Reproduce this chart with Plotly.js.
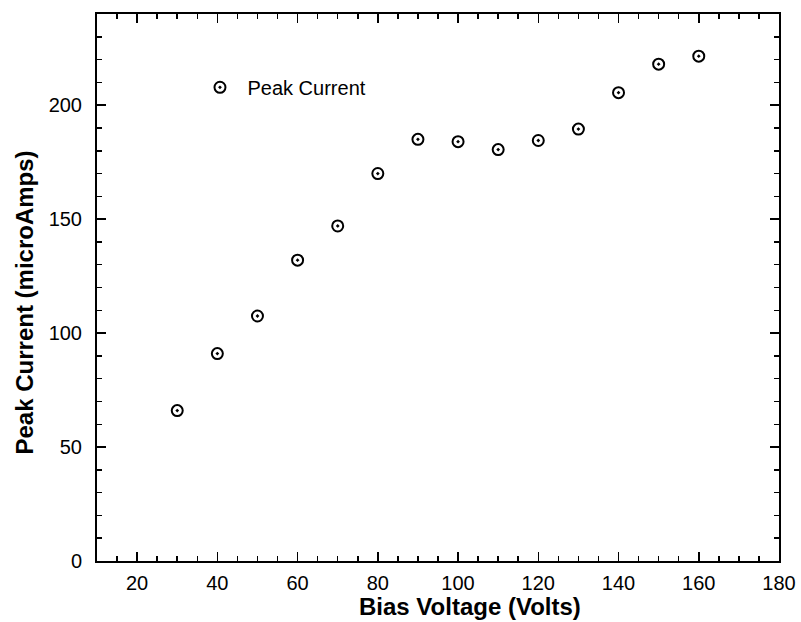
<!DOCTYPE html>
<html>
<head>
<meta charset="utf-8">
<script src="https://cdn.plot.ly/plotly-3.0.1.min.js"></script>
<style>html,body{margin:0;padding:0;background:#fff;}#chart{width:801px;height:622px;}</style>
</head>
<body>
<div id="chart"></div>
<script>
const biasVoltage = [30, 40, 50, 60, 70, 80, 90, 100, 110, 120, 130, 140, 150, 160];
const peakCurrent = [66, 91, 107.5, 132, 147, 170, 185, 184, 180.5, 184.5, 189.5, 205.5, 218, 221.5];
const seriesName = 'Peak Current';
const xTitle = 'Bias Voltage (Volts)';
const yTitle = 'Peak Current (microAmps)';

const fontFam = 'Arial, "Liberation Sans", sans-serif';
const titleFont = {family: fontFam, size: 24, color: '#000', weight: 'bold'};

const trace = {
  x: biasVoltage,
  y: peakCurrent,
  type: 'scatter',
  mode: 'markers',
  name: seriesName,
  marker: {symbol: 'circle-dot', size: 11, color: 'rgba(0,0,0,0)', line: {color: '#000', width: 2}}
};

const axisCommon = {
  showgrid: false, zeroline: false, showline: true, linecolor: '#000', linewidth: 2,
  mirror: 'allticks', ticks: 'inside', ticklen: 9, tickwidth: 1.5, tickcolor: '#000',
  tickfont: {family: fontFam, size: 20, color: '#000'}
};

const layout = {
  width: 801, height: 622,
  margin: {l: 97, r: 22, t: 14, b: 61},
  paper_bgcolor: '#fff', plot_bgcolor: '#fff',
  showlegend: true,
  legend: {x: 0.14, y: 0.866, xanchor: 'left', yanchor: 'middle', bgcolor: 'rgba(0,0,0,0)',
           itemwidth: 45,
           font: {family: fontFam, size: 20, color: '#000'}},
  xaxis: Object.assign({}, axisCommon, {
    range: [10, 180], tick0: 20, dtick: 20, ticklabelstandoff: 3,
    minor: {dtick: 5, tick0: 0, ticks: 'inside', ticklen: 5, tickwidth: 1.5, tickcolor: '#000'}
  }),
  yaxis: Object.assign({}, axisCommon, {
    range: [0, 240], tick0: 0, dtick: 50, ticklabelstandoff: 9,
    minor: {dtick: 10, tick0: 0, ticks: 'inside', ticklen: 5, tickwidth: 1.5, tickcolor: '#000'}
  }),
  annotations: [
    {text: xTitle, xref: 'paper', yref: 'paper', x: 0.547, y: -0.084, xanchor: 'center', yanchor: 'middle',
     showarrow: false, font: titleFont},
    {text: yTitle, xref: 'paper', yref: 'paper', x: -0.107, y: 0.4726, xanchor: 'center', yanchor: 'middle',
     textangle: -90, showarrow: false, font: titleFont}
  ]
};

Plotly.newPlot('chart', [trace], layout, {displayModeBar: false, staticPlot: true});
</script>
</body>
</html>
